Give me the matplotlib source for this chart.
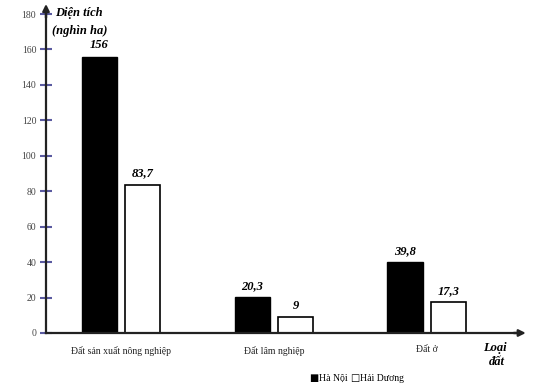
import matplotlib
matplotlib.use("Agg")
import matplotlib.pyplot as plt
import numpy as np

categories = ["Đất sản xuất nông nghiệp", "Đất lâm nghiệp", "Đất ở"]
ha_noi = [156, 20.3, 39.8]
hai_duong = [83.7, 9, 17.3]
ha_noi_labels = ["156", "20,3", "39,8"]
hai_duong_labels = ["83,7", "9", "17,3"]
yticks = [0, 20, 40, 60, 80, 100, 120, 140, 160, 180]

serif = "Liberation Serif"
fig = plt.figure(figsize=(5.39, 3.89), dpi=100)
W, H = 539, 389
ax = fig.add_axes([46 / W, (H - 333) / H, (520 - 46) / W, (333 - 14) / H])

x = np.arange(len(categories))
off = 0.142
w = 0.23
ax.bar(x - off, ha_noi, w, color="black", edgecolor="black", linewidth=1)
ax.bar(x + off, hai_duong, w, color="white", edgecolor="black", linewidth=1.2)

for xi, v, lab in zip(x - off, ha_noi, ha_noi_labels):
    ax.text(xi, v + 3, lab, ha="center", va="bottom", fontsize=9,
            fontweight="bold", fontstyle="italic", family=serif)
for xi, v, lab in zip(x + off, hai_duong, hai_duong_labels):
    ax.text(xi, v + 3, lab, ha="center", va="bottom", fontsize=9,
            fontweight="bold", fontstyle="italic", family=serif)

ax.set_xlim(-0.49, 2.61)
ax.set_ylim(0, 180)
for s in ["top", "right"]:
    ax.spines[s].set_visible(False)
for s in ["left", "bottom"]:
    ax.spines[s].set_linewidth(1.6)
    ax.spines[s].set_color("#222222")

ax.set_yticks(yticks)
ax.set_yticklabels([str(t) for t in yticks], fontsize=7, family=serif, color="#444444")
ax.tick_params(axis="y", direction="inout", length=8, width=1.5, color="#5a5aa0", pad=3)
ax.set_xticks(x)
ax.set_xticklabels(categories, fontsize=7, family=serif, color="#222222")
ax.tick_params(axis="x", length=0, pad=9)

# arrows
ax.annotate("", xy=(0, 1.04), xytext=(0, 0.98), xycoords="axes fraction",
            arrowprops=dict(arrowstyle="-|>", color="#222222", lw=1.6, mutation_scale=10),
            annotation_clip=False)
ax.annotate("", xy=(1.018, 0), xytext=(0.98, 0), xycoords="axes fraction",
            arrowprops=dict(arrowstyle="-|>", color="#222222", lw=1.6, mutation_scale=10),
            annotation_clip=False)
ax.plot([1, 0.99], [0, 0], transform=ax.transAxes, color="#222222", lw=1.6, clip_on=False)
ax.plot([0, 0], [1, 0.99], transform=ax.transAxes, color="#222222", lw=1.6, clip_on=False)

fig.text(55 / W, 1 - 13 / H, "Diện tích", fontsize=9, fontweight="bold", fontstyle="italic",
         family=serif, va="center", ha="left")
fig.text(52 / W, 1 - 31 / H, "(nghìn ha)", fontsize=9, fontweight="bold", fontstyle="italic",
         family=serif, va="center", ha="left")
fig.text(495 / W, 1 - 348 / H, "Loại", fontsize=9, fontweight="bold", fontstyle="italic",
         family=serif, va="center", ha="center")
fig.text(497 / W, 1 - 362 / H, "đất", fontsize=9, fontweight="bold", fontstyle="italic",
         family=serif, va="center", ha="center")

base = 1 - 381 / H
fig.text(309 / W, base, "■", fontsize=7, family="DejaVu Sans", va="baseline", ha="left")
fig.text(319 / W, base, "Hà Nội", fontsize=7, family=serif, va="baseline", ha="left")
fig.text(350 / W, base, "□", fontsize=7, family="DejaVu Sans", va="baseline", ha="left")
fig.text(360 / W, base, "Hải Dương", fontsize=7, family=serif, va="baseline", ha="left")

fig.savefig("out.png", dpi=100)
